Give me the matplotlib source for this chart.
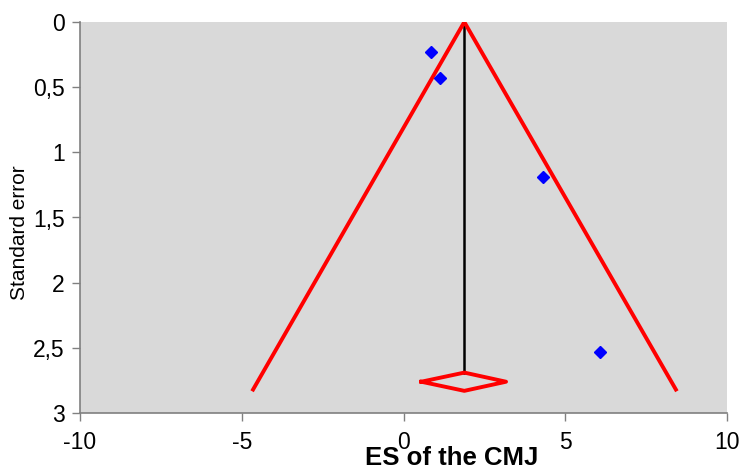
import matplotlib
matplotlib.use('Agg')
import numpy as np
from matplotlib import pyplot as plt
from matplotlib.ticker import FuncFormatter

plt.rcParams['font.family'] = ['Liberation Sans', 'DejaVu Sans']
plt.rcParams['axes.unicode_minus'] = False

# study effect sizes and their standard errors
es = [0.85, 1.13, 4.32, 6.07]
se = [0.23, 0.43, 1.19, 2.53]

# pooled estimate and funnel limits
pooled = 1.88
funnel_x = [-4.65, pooled, 8.42]
funnel_y = [2.82, 0.0, 2.82]

# summary diamond (x = CI, y = vertical extent)
diamond_x = [0.55, pooled, 3.17, pooled, 0.55]
diamond_y = [2.76, 2.69, 2.76, 2.83, 2.76]

x_ticks = [-10, -5, 0, 5, 10]
y_ticks = [0, 0.5, 1, 1.5, 2, 2.5, 3]

fig = plt.figure(figsize=(7.43, 4.73), dpi=100)
ax = fig.add_axes([80 / 743, 1 - 413 / 473, 647 / 743, 391 / 473])
ax.set_facecolor('#d9d9d9')

ax.plot(funnel_x, funnel_y, color='red', lw=2.8, solid_joinstyle='miter', zorder=3)
ax.plot([pooled, pooled], [0, diamond_y[1]], color='black', lw=1.8, zorder=2)
ax.plot(diamond_x, diamond_y, color='red', lw=2.8, zorder=3)
ax.plot(es, se, linestyle='none', marker='D', color='blue', markersize=6.3, zorder=4)

ax.set_xlim(-10, 10)
ax.set_ylim(3, 0)
ax.set_xticks(x_ticks)
ax.set_yticks(y_ticks)
ax.yaxis.set_major_formatter(FuncFormatter(lambda v, p: f'{v:g}'.replace('.', ',')))

for side in ['top', 'right']:
    ax.spines[side].set_visible(False)
for side in ['left', 'bottom']:
    ax.spines[side].set_color('#808080')
    ax.spines[side].set_linewidth(1.2)

ax.tick_params(axis='both', direction='out', length=6, width=1, color='#808080', labelsize=16.5)
ax.tick_params(axis='x', pad=7)
ax.tick_params(axis='y', pad=5)

fig.text(20 / 743, 1 - 233 / 473, 'Standard error', fontsize=15, rotation=90,
         ha='center', va='center')
fig.text(452 / 743, 3 / 473, 'ES of the CMJ', fontsize=18.5, fontweight='bold',
         ha='center', va='bottom')

fig.savefig('out.png', dpi=100)
